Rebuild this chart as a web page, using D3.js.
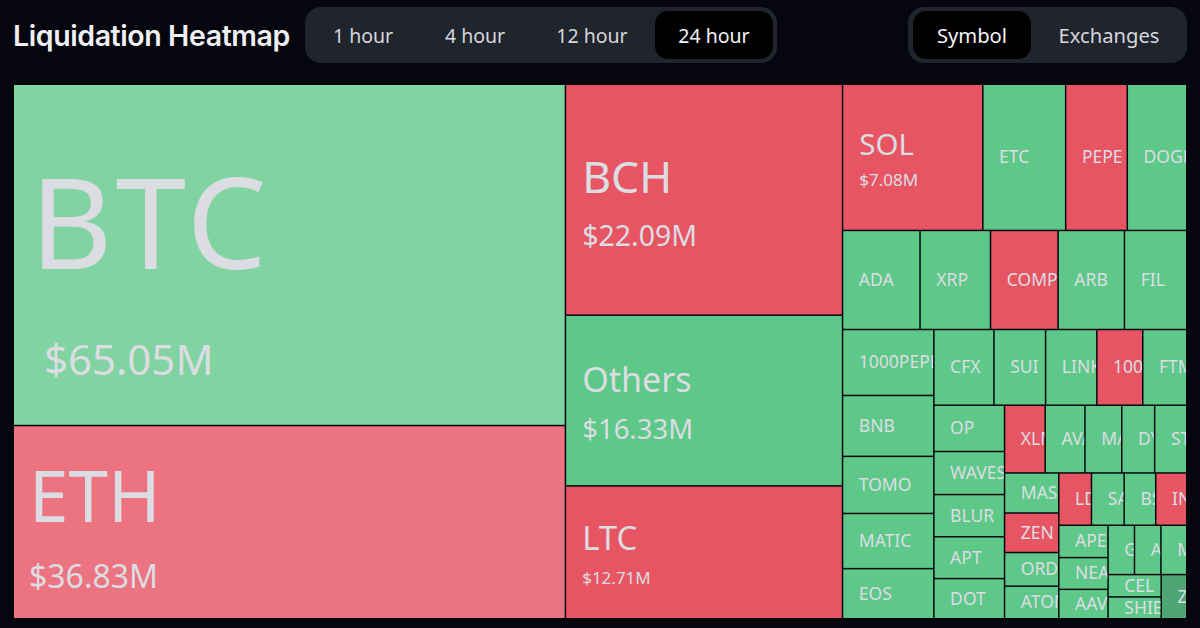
<!DOCTYPE html>
<html>
<head>
<meta charset="utf-8">
<title>Liquidation Heatmap</title>
<script src="https://cdn.jsdelivr.net/npm/d3@7"></script>
<style>
	html, body { margin: 0; background: #05060e; overflow: hidden; }
	text { font-family: "Noto Sans", sans-serif; }
</style>
</head>
<body>
<script>
// data, $M, biggest first. cut off names are kept as far as they can be read
	var symbols = ['BTC','ETH','BCH','Others','LTC','SOL','ETC','PEPE','DOGE','ADA','XRP','COMP','ARB','FIL',
		'1000PEPE','BNB','TOMO','MATIC','EOS','CFX','SUI','LINK','100','FTM','OP','WAVES','BLUR','APT','DOT',
		'XLM','AVA','MA','DY','ST','MAS','ZEN','ORD','ATOM','LD','SA','BS','IN',
		'APE','NEA','AAV','G','A','M','CEL','SHIB','Z'];
	var amounts = [65.05,36.83,22.09,16.33,12.71,7.08,4.18,3.11,3.00,2.65,2.41,2.31,2.27,2.13,
		2.08,1.92,1.80,1.74,1.58,1.57,1.35,1.34,1.20,1.15,1.13,1.05,1.03,1.02,0.98,
		0.95,0.93,0.86,0.77,0.75,0.75,0.74,0.63,0.61,0.59,0.59,0.57,0.56,
		0.55,0.54,0.50,0.45,0.45,0.44,0.41,0.40,0.39];
	var sides = ['long','short','short','long','short','short','long','short','long','long','long','short','long','long',
		'long','long','long','long','long','long','long','long','short','long','long','long','long','long','long',
		'short','long','long','long','long','long','short','long','long','short','long','long','short',
		'long','long','long','long','long','long','long','long','dim'];
	var periods = ['1 hour','4 hour','12 hour','24 hour'];
	var views = ['Symbol','Exchanges'];

// parameters for layout
	var width = 1200,
		height = 628,
		map_left = 14,
		map_top = 85,
		map_width = 1172,
		map_height = 533,
		bg = '#05060e',
		pill_bg = '#20242d',
		text_col = '#dcdde3';

// colours, the two biggest cells are paler
	var fills = { long: '#5dc888', short: '#e75562', dim: '#4da673' },
		pale = { long: '#81d3a1', short: '#ec7380' };

// big labels for the top six cells
	var label_sizes = [127, 71, 44.5, 34, 33, 29.5],
		label_spacing = [3, 0, 0, 0, 0, 0],
		value_sizes = [42, 32, 28.5, 27.5, 17, 17],
		label_dx = [16, 15, 16, 16, 16, 16],
		value_dx = [30, 15, 16, 16, 16, 16],
		label_dy = [-35, -28, -24, -22, -15, -14],
		value_dy = [104, 53, 35, 28, 25, 22],
		small_size = 17.5;

	var svg = d3.select('body').append('svg')
		.attr('width', width)
		.attr('height', height)
		.style('display', 'block')
		.style('background-color', bg);

// title
	svg.append('text')
		.attr('x', 13)
		.attr('y', 46)
		.attr('fill', '#f0f0f4')
		.style('font-family', 'Inter')
		.style('font-size', '28.5px')
		.style('font-weight', 600)
		.style('letter-spacing', '-0.4px')
		.text('Liquidation Heatmap');

// toggle groups at the top
	function pills(items, x0, x1, centres, active_x0, active_x1, active, size) {
		var g = svg.append('g');
		g.append('rect')
			.attr('x', x0).attr('y', 7)
			.attr('width', x1 - x0).attr('height', 56)
			.attr('rx', 16)
			.attr('fill', pill_bg);
		g.append('rect')
			.attr('x', active_x0).attr('y', 11)
			.attr('width', active_x1 - active_x0).attr('height', 48)
			.attr('rx', 13)
			.attr('fill', '#000');
		g.selectAll('text')
			.data(items)
		  .enter().append('text')
			.attr('x', function(d, i) { return centres[i]; })
			.attr('y', 42.5)
			.attr('text-anchor', 'middle')
			.attr('fill', function(d) { return d == active ? '#f4f4f6' : '#d5d7dc'; })
			.style('font-size', size + 'px')
			.text(function(d) { return d; });
	}
	pills(periods, 305, 777, [363, 475, 592, 714], 655, 773, '24 hour', 19.5);
	pills(views, 908, 1187, [972, 1109], 913, 1031, 'Symbol', 20.2);

// treemap
	var root = d3.hierarchy({ children: symbols.map(function(s, i) {
			return { name: s, amount: amounts[i], side: sides[i], rank: i };
		}) })
		.sum(function(d) { return d.amount || 0; })
		.sort(function(a, b) { return b.value - a.value; });

	d3.treemap()
		.tile(d3.treemapSquarify)
		.size([map_width, map_height])
		.paddingInner(1.5)(root);

	var cells = svg.append('g')
		.attr('transform', 'translate(' + map_left + ',' + map_top + ')')
	  .selectAll('g')
		.data(root.leaves())
	  .enter().append('g')
		.attr('transform', function(d) { return 'translate(' + d.x0 + ',' + d.y0 + ')'; });

	cells.append('clipPath')
		.attr('id', function(d) { return 'clip' + d.data.rank; })
	  .append('rect')
		.attr('width', function(d) { return d.x1 - d.x0; })
		.attr('height', function(d) { return d.y1 - d.y0; });

	cells.append('rect')
		.attr('width', function(d) { return d.x1 - d.x0; })
		.attr('height', function(d) { return d.y1 - d.y0; })
		.attr('fill', function(d) { return d.data.rank < 2 ? pale[d.data.side] : fills[d.data.side]; });

	var labels = cells.append('g')
		.attr('clip-path', function(d) { return 'url(#clip' + d.data.rank + ')'; })
		.attr('fill', text_col);

	labels.append('text')
		.attr('x', function(d) { return d.data.rank < 6 ? label_dx[d.data.rank] : 15.5; })
		.attr('y', function(d) { return (d.y1 - d.y0) / 2 + (d.data.rank < 6 ? label_dy[d.data.rank] : -1); })
		.attr('dominant-baseline', 'central')
		.style('font-size', function(d) { return (d.data.rank < 6 ? label_sizes[d.data.rank] : small_size) + 'px'; })
		.style('letter-spacing', function(d) { return (d.data.rank < 6 ? label_spacing[d.data.rank] : 0) + 'px'; })
		.text(function(d) { return d.data.name; });

	labels.filter(function(d) { return d.data.rank < 6; }).append('text')
		.attr('x', function(d) { return value_dx[d.data.rank]; })
		.attr('y', function(d) { return (d.y1 - d.y0) / 2 + value_dy[d.data.rank]; })
		.attr('dominant-baseline', 'central')
		.style('font-size', function(d) { return value_sizes[d.data.rank] + 'px'; })
		.text(function(d) { return '$' + d3.format('.2f')(d.data.amount) + 'M'; });
</script>
</body>
</html>
